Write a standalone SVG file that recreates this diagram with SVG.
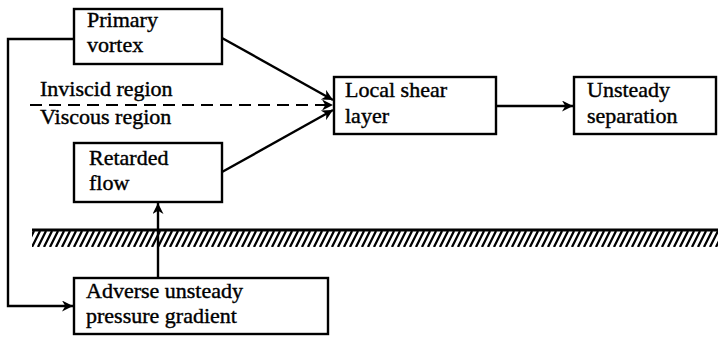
<svg xmlns="http://www.w3.org/2000/svg" width="718" height="338" viewBox="0 0 718 338">
  <defs>
    <marker id="arrow" viewBox="0 0 10 10" refX="10" refY="5" markerWidth="14" markerHeight="11" markerUnits="userSpaceOnUse" orient="auto">
      <path d="M0,0 L10,5 L0,10 L3,5 Z" fill="#000"/>
    </marker>
    <pattern id="hatch" x="0" y="231" width="6" height="16" patternUnits="userSpaceOnUse">
      <path d="M-4,16 L4,0 M2,16 L10,0" stroke="#000" stroke-width="2.3"/>
    </pattern>
  </defs>
  <style>
    .box { fill: #fff; stroke: #000; stroke-width: 2.4; }
    .lbl { font-family: "Liberation Serif", "Times New Roman", serif; font-size: 22px; fill: #000; stroke: #000; stroke-width: 0.4; }
    .line { fill: none; stroke: #000; stroke-width: 2.4; }
    .dash { fill: none; stroke: #000; stroke-width: 2.2; stroke-dasharray: 12 7; }
  </style>

  <!-- wall with hatching -->
  <g id="wall">
    <rect x="32" y="231" width="686" height="16" fill="url(#hatch)"/>
    <line x1="32" y1="230" x2="718" y2="230" stroke="#000" stroke-width="2.8"/>
  </g>

  <!-- region boundary labels -->
  <g id="regions">
    <text class="lbl" x="40" y="96">Inviscid region</text>
    <text class="lbl" x="40" y="124">Viscous region</text>
  </g>

  <g id="connectors">
    <line class="dash" x1="30" y1="105" x2="333" y2="105" marker-end="url(#arrow)"/>
    <line class="line" x1="222" y1="38" x2="333" y2="100" marker-end="url(#arrow)"/>
    <line class="line" x1="222" y1="172" x2="333" y2="110" marker-end="url(#arrow)"/>
    <line class="line" x1="496" y1="106" x2="573" y2="106" marker-end="url(#arrow)"/>
    <polyline class="line" points="74,39 8,39 8,306 73,306" marker-end="url(#arrow)"/>
    <line class="line" x1="158" y1="278" x2="158" y2="203" marker-end="url(#arrow)"/>
  </g>

  <g id="primary-vortex">
    <rect class="box" x="74" y="9" width="148" height="55"/>
    <text class="lbl" x="87" y="27">Primary</text>
    <text class="lbl" x="87" y="52">vortex</text>
  </g>

  <g id="retarded-flow">
    <rect class="box" x="74" y="143" width="148" height="59"/>
    <text class="lbl" x="89" y="165">Retarded</text>
    <text class="lbl" x="89" y="190">flow</text>
  </g>

  <g id="adverse-gradient">
    <rect class="box" x="74" y="278" width="254" height="56"/>
    <text class="lbl" x="86" y="298">Adverse unsteady</text>
    <text class="lbl" x="86" y="323">pressure gradient</text>
  </g>

  <g id="local-shear-layer">
    <rect class="box" x="334" y="77" width="162" height="57"/>
    <text class="lbl" x="345" y="97">Local shear</text>
    <text class="lbl" x="345" y="123">layer</text>
  </g>

  <g id="unsteady-separation">
    <rect class="box" x="574" y="77" width="142" height="57"/>
    <text class="lbl" x="587" y="97">Unsteady</text>
    <text class="lbl" x="587" y="123">separation</text>
  </g>
</svg>
